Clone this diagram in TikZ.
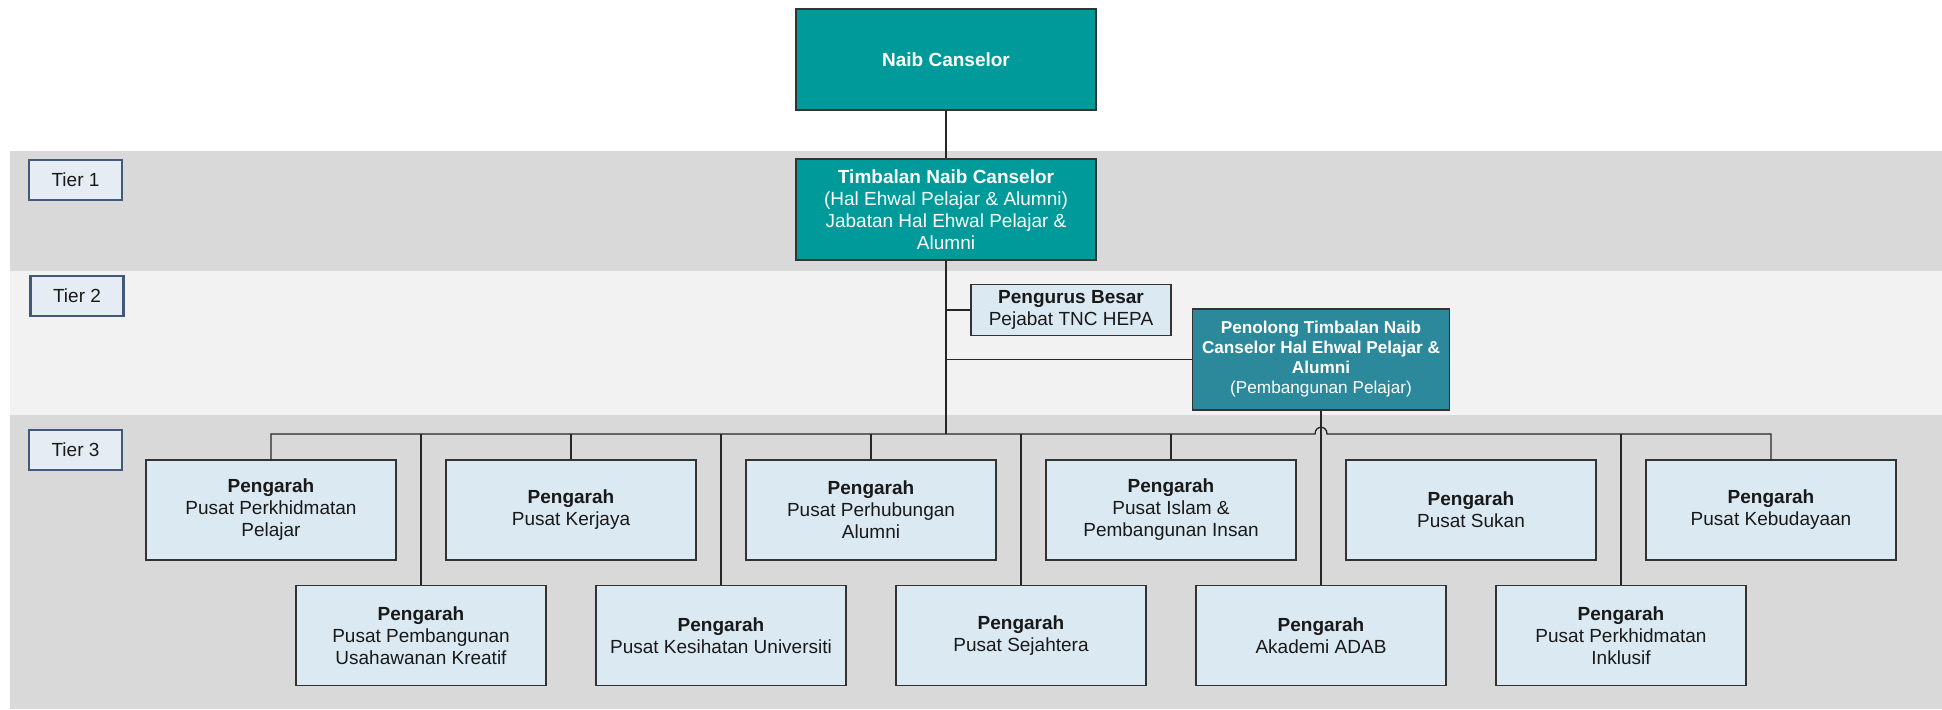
\documentclass[tikz,border=0pt]{standalone}
\usepackage{fontspec}
\setmainfont{Liberation Sans}

\definecolor{headteal}{HTML}{009A9A}
\definecolor{asstteal}{HTML}{2C889B}
\definecolor{boxblue}{HTML}{DBEAF2}
\definecolor{tierline}{HTML}{43597A}
\definecolor{tierfill}{HTML}{E6ECF3}
\definecolor{bandgray}{HTML}{D9D9D9}
\definecolor{bandlight}{HTML}{F2F2F2}

\begin{document}
\begin{tikzpicture}[
  x=0.5pt, y=-0.5pt,
  font=\fontsize{9.5}{11}\selectfont,
  hnode/.style={draw=black!80,line width=0.75pt,fill=headteal,text=white,align=center,minimum width=150pt,minimum height=50.5pt,inner sep=2pt},
  anode/.style={hnode,fill=asstteal,minimum width=128.5pt,font=\fontsize{8.6}{10}\selectfont},
  dnode/.style={draw=black!80,line width=0.75pt,fill=boxblue,text=black!90,align=center,minimum width=125pt,minimum height=50pt,inner sep=2pt},
  tnode/.style={draw=tierline,line width=1.2pt,fill=tierfill,text=black!90,minimum width=46.5pt,minimum height=20pt,inner sep=1pt},
  link/.style={draw=black!85,line width=0.65pt}
]
  \useasboundingbox (0,0) rectangle (1942,709);

  % bands
  \fill[bandgray] (10,151) rectangle (1942,271);
  \fill[bandlight] (10,271) rectangle (1942,415);
  \fill[bandgray] (10,415) rectangle (1942,709);

  % tiers
  \node[tnode] (tier1) at (75.5,180) {Tier 1};
  \node[tnode] (tier2) at (77,296) {Tier 2};
  \node[tnode] (tier3) at (75.5,450) {Tier 3};

  % heads
  \node[hnode] (vc) at (946,59.5) {\textbf{Naib Canselor}};
  \node[hnode] (tnc) at (946,209.5) {\textbf{Timbalan Naib Canselor}\\(Hal Ehwal Pelajar \& Alumni)\\Jabatan Hal Ehwal Pelajar \&\\Alumni};
  \node[dnode,minimum width=100pt,minimum height=25.5pt] (pb) at (1071,310) {\textbf{Pengurus Besar}\\Pejabat TNC HEPA};
  \node[anode] (ptnc) at (1321,359.5) {\textbf{Penolong Timbalan Naib}\\\textbf{Canselor Hal Ehwal Pelajar \&}\\\textbf{Alumni}\\(Pembangunan Pelajar)};

  % directors, top row
  \node[dnode] (t1) at (271,510) {\textbf{Pengarah}\\Pusat Perkhidmatan\\Pelajar};
  \node[dnode] (t2) at (571,510) {\textbf{Pengarah}\\Pusat Kerjaya};
  \node[dnode] (t3) at (871,510) {\textbf{Pengarah}\\Pusat Perhubungan\\Alumni};
  \node[dnode] (t4) at (1171,510) {\textbf{Pengarah}\\Pusat Islam \&\\Pembangunan Insan};
  \node[dnode] (t5) at (1471,510) {\textbf{Pengarah}\\Pusat Sukan};
  \node[dnode] (t6) at (1771,510) {\textbf{Pengarah}\\Pusat Kebudayaan};

  % directors, bottom row
  \node[dnode] (b1) at (421,635.5) {\textbf{Pengarah}\\Pusat Pembangunan\\Usahawanan Kreatif};
  \node[dnode] (b2) at (721,635.5) {\textbf{Pengarah}\\Pusat Kesihatan Universiti};
  \node[dnode] (b3) at (1021,635.5) {\textbf{Pengarah}\\Pusat Sejahtera};
  \node[dnode] (b4) at (1321,635.5) {\textbf{Pengarah}\\Akademi ADAB};
  \node[dnode] (b5) at (1621,635.5) {\textbf{Pengarah}\\Pusat Perkhidmatan\\Inklusif};

  % junctions
  \coordinate (j1) at (946,310);
  \coordinate (j2) at (946,359.5);
  \coordinate (bus) at (946,434);
  \coordinate (hopL) at (1315,434);
  \coordinate (hopR) at (1327,434);

  % edges
  \draw[link] (vc) -- (tnc);
  \draw[link,line width=1.3pt] (tnc) -- (bus);
  \draw[link] (j1) -- (pb);
  \draw[link] (j2) -- (ptnc);
  \draw[link] (t1.north) |- (hopL) .. controls (1315,425) and (1327,425) .. (hopR) -| (t6.north);
  \foreach \n in {t2,t3,t4,b1,b2,b3,b5}
    \draw[link] (\n.north) -- (\n.north |- bus);
  \draw[link] (ptnc) -- (b4);
\end{tikzpicture}
\end{document}
